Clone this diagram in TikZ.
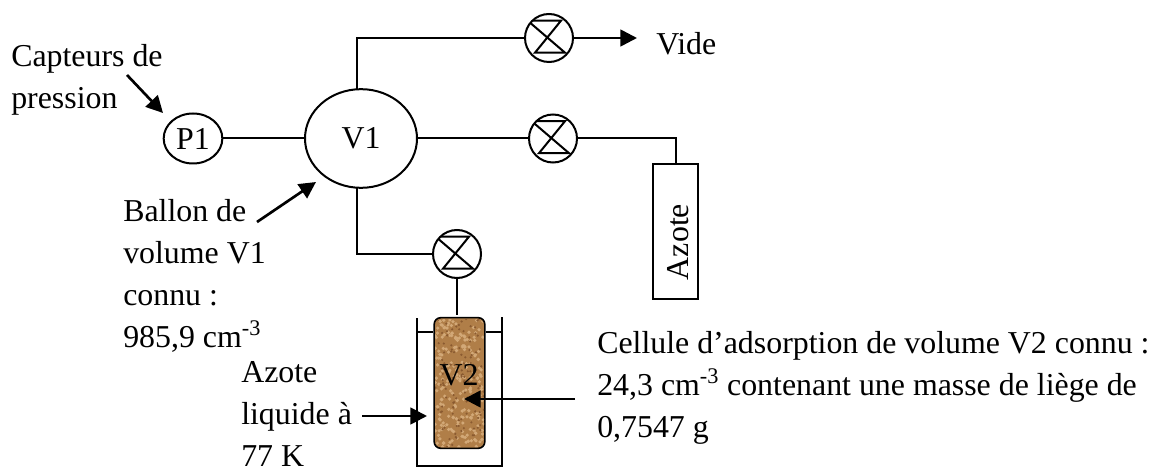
\documentclass[tikz,border=0pt]{standalone}
\usepackage{fontspec}
\setmainfont{Liberation Serif}
\usetikzlibrary{arrows.meta,positioning,calc,shapes.geometric}
\definecolor{ink}{HTML}{000000}
\definecolor{cork}{HTML}{B07E48}
\definecolor{corklight}{HTML}{D2A877}
\definecolor{corkdark}{HTML}{8A5A30}
\tikzset{
  pipe/.style={draw=ink,line width=1.5pt},
  flow/.style={->,draw=ink,line width=2pt,>={Triangle[length=12.5pt,width=12.5pt]}},
  label/.style={anchor=west,align=left,inner sep=0pt,font=\fontsize{23.9}{31.5}\selectfont},
  vessel/.style={ellipse,draw=ink,line width=1.5pt,inner sep=0pt,font=\fontsize{23.9}{26}\selectfont},
  valve/.style={circle,draw=ink,line width=1.5pt,inner sep=0pt,minimum size=36pt,
    path picture={
      \draw[ink,line width=1.5pt] ($(path picture bounding box.center)+(-16pt,13pt)$) -- ++(25pt,0)
        -- ($(path picture bounding box.center)+(-10.5pt,-11pt)$) -- ++(22.5pt,0) -- cycle;
    }},
}
\begin{document}
\begin{tikzpicture}[x=.75pt,y=-.75pt]
  \useasboundingbox (0,0) rectangle (1152,470);
  % vessels and valves
  \node[vessel,minimum width=84pt,minimum height=74pt] (vone) at (361,138.5) {V1};
  \node[vessel,minimum width=44pt,minimum height=37.5pt] (pone) at (193,138.5) {P1};
  \node[valve] (vvide) at (549,38) {};
  \node[valve] (vazote) at (553,138.5) {};
  \node[valve] (vcell) at (457,254) {};
  % azote bottle
  \node[draw=ink,line width=1.5pt,minimum width=33.5pt,minimum height=101pt,inner sep=0pt] (bottle) at (675.5,231.5) {};
  \node[rotate=90,inner sep=0pt,font=\fontsize{23.9}{26}\selectfont] (azote) at (678,242) {Azote};
  % cell
  \draw[pipe,line width=1.7pt] (417,318) |- (502,466) -- (502,317);
  \node[draw=ink,line width=1.2pt,fill=cork,rounded corners=5pt,minimum width=38pt,minimum height=98pt,inner sep=0pt] (cell) at (459.5,383) {};
  \begin{scope}
    \clip[rounded corners=5pt] (435,319) rectangle (484,447);
    \pgfmathsetseed{7}
    \foreach \i in {1,...,220}{
      \fill[corklight] ({435+rnd*49},{319+rnd*128}) circle (1.8);
    }
    \foreach \i in {1,...,120}{
      \fill[corkdark] ({435+rnd*49},{319+rnd*128}) circle (1.2);
    }
  \end{scope}
  \node[inner sep=0pt,font=\fontsize{23.9}{26}\selectfont] (vtwo) at (459,375) {V2};
  \coordinate (levelL) at (418,332);
  \coordinate (levelR) at (502,332);
  \draw[pipe] (levelL) -- (cell.west |- levelL);
  \draw[pipe] (cell.east |- levelR) -- (levelR);
  % pipes
  \coordinate (celltop) at (457,315);
  \coordinate (toptee) at (357,89);
  \coordinate (bottomtee) at (357,188);
  \draw[pipe] (pone) -- (vone);
  \draw[pipe] (toptee) |- (vvide);
  \draw[pipe] (vone) -- (vazote);
  \draw[pipe] (vazote) -| (bottle.north);
  \draw[pipe] (bottomtee) |- (vcell);
  \draw[pipe] (vcell) -- (celltop);
  % labels
  \node[label] (vide) at (656,44) {Vide};
  \node[label] (capteurs) at (11,80) {Capteurs de\\pression};
  \node[label] (ballon) at (123,276) {Ballon de\\volume V1\\connu :\\985,9 cm\textsuperscript{-3}};
  \node[label] (liquide) at (241,414) {Azote\\liquide à\\77 K};
  \node[label] (desc) at (597,388) {Cellule d’adsorption de volume V2 connu :\\24,3 cm\textsuperscript{-3} contenant une masse de liège de\\0,7547 g};
  % arrows
  \coordinate (videend) at (637,38);
  \draw[flow] (vvide) -- (videend);
  \coordinate (capA) at (127,75);
  \coordinate (capB) at (163,113);
  \draw[flow] (capA) -- (capB);
  \coordinate (balA) at (257,222);
  \coordinate (balB) at (316,182);
  \draw[flow] (balA) -- (balB);
  \coordinate (liqA) at (362,416);
  \coordinate (liqB) at (427,416);
  \draw[flow] (liqA) -- (liqB);
  \coordinate (descA) at (575,399);
  \coordinate (descB) at (464,399);
  \draw[flow] (descA) -- (descB);
\end{tikzpicture}
\end{document}
